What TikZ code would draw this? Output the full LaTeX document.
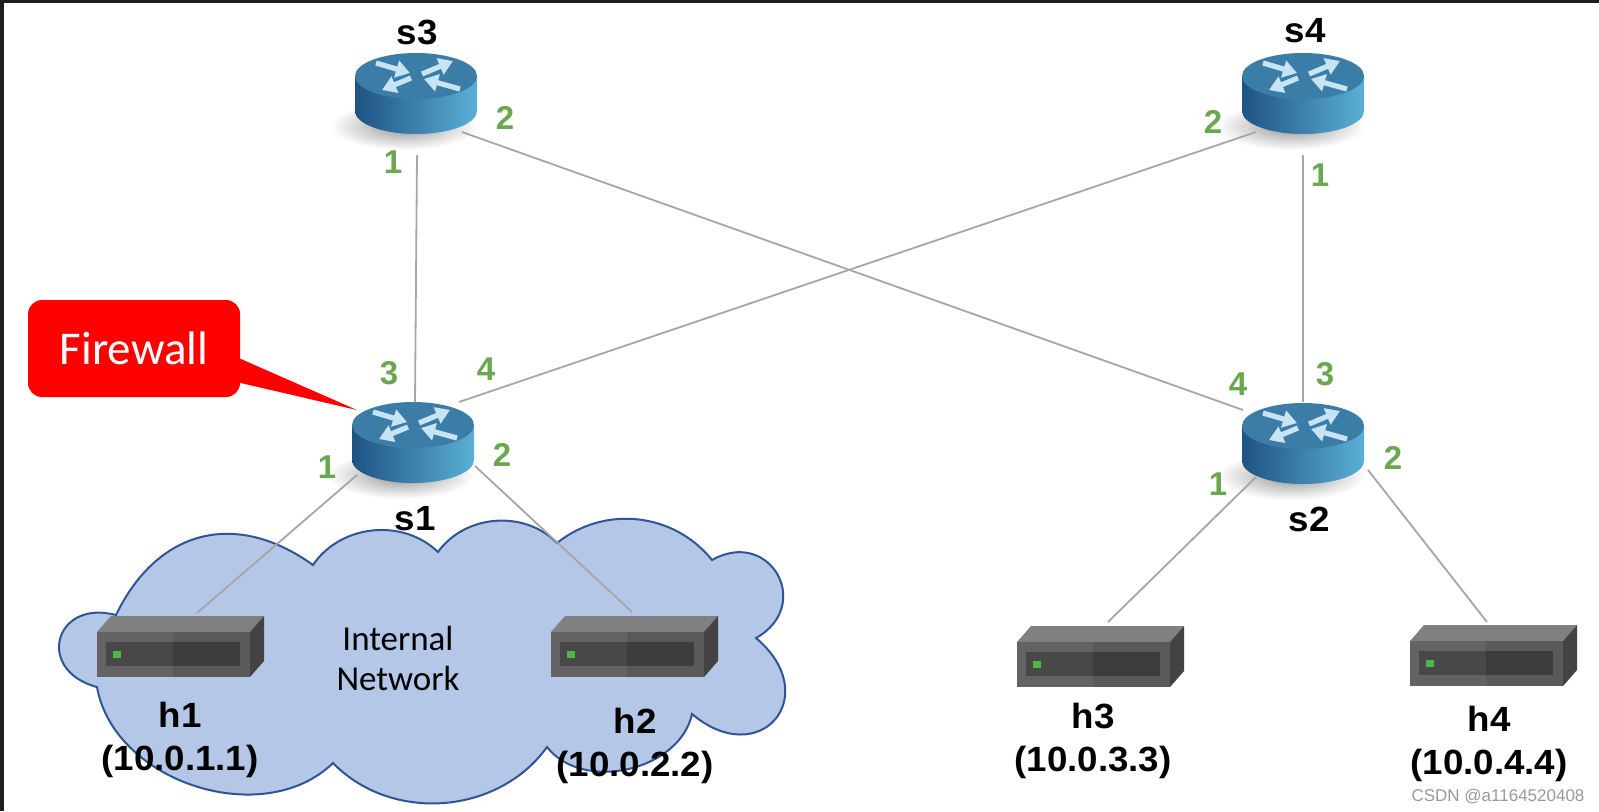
\documentclass[tikz,border=0pt]{standalone}
\usepackage{fontspec}
\usepackage{graphicx}
\setmainfont{Liberation Sans}
\newfontfamily\calFont{Carlito}
\usetikzlibrary{arrows.meta}

\definecolor{linkGray}{HTML}{A6A6A6}
\definecolor{portGreen}{HTML}{6AA84F}
\definecolor{cloudFill}{HTML}{B4C7E7}
\definecolor{cloudEdge}{HTML}{2F5597}
\definecolor{routerTop}{HTML}{3B7DA7}
\definecolor{routerLeft}{HTML}{1F5283}
\definecolor{routerRight}{HTML}{5AB0D6}
\definecolor{routerArrow}{HTML}{C6E4F3}
\definecolor{hostTop}{HTML}{808080}
\definecolor{hostSide}{HTML}{434343}
\definecolor{hostFrontL}{HTML}{636363}
\definecolor{hostFrontR}{HTML}{5A5A5A}
\definecolor{hostPanelL}{HTML}{484848}
\definecolor{hostPanelR}{HTML}{3C3C3C}
\definecolor{hostLed}{HTML}{4DB848}
\definecolor{fwRed}{HTML}{FF0000}
\definecolor{frameDark}{HTML}{1E1E1E}

\pgfdeclareradialshading{routerShadow}{\pgfpoint{0bp}{0bp}}{color(0bp)=(black!45); color(10bp)=(black!25); color(25bp)=(white); color(50bp)=(white)}

\newcommand{\wide}[1]{\scalebox{1.05}[1]{#1}}

% soft shadow under a router: x, y of the top centre
\newcommand{\routerShade}[2]{%
  \shade[shading=routerShadow, shift={(#1,#2)}] (-12,50) ellipse [x radius=74, y radius=24];}

% router icon: name, x, y of the top centre
\newcommand{\router}[3]{%
  \begin{scope}[shift={(#2,#3)}]
    \shade[left color=routerLeft, right color=routerRight]
      (-61,0) -- (-61,35) arc [start angle=180, end angle=0, x radius=61, y radius=23]
      -- (61,0) -- cycle;
    \fill[routerTop] (0,0) ellipse [x radius=61, y radius=23];
    \draw[routerArrowLine] (-40,-13) -- (-6,-3);
    \draw[routerArrowLine] (6,-2) -- (37,-15);
    \draw[routerArrowLine] (-5,2) -- (-34,14);
    \draw[routerArrowLine] (44,13) -- (8,3);
    \coordinate (#1) at (0,0);
  \end{scope}}

% host box: name, x, y of the front top-left corner
\newcommand{\host}[3]{%
  \begin{scope}[shift={(#2,#3)}]
    \fill[hostTop] (0,0) -- (14,-16) -- (167,-16) -- (153,0) -- cycle;
    \fill[hostSide] (153,0) -- (167,-16) -- (167,29) -- (153,45) -- cycle;
    \fill[hostFrontL] (0,0) rectangle (76,45);
    \fill[hostFrontR] (76,0) rectangle (153,45);
    \fill[hostPanelL] (9,10) rectangle (76,34);
    \fill[hostPanelR] (76,10) rectangle (143,34);
    \fill[hostLed] (16,19) rectangle (24,26);
    \coordinate (#1) at (83,-16);
  \end{scope}}

\begin{document}
\begin{tikzpicture}[x=0.5pt, y=-0.5pt]
  \tikzset{
    linkLine/.style={draw=linkGray, line width=0.9pt},
    routerArrowLine/.style={draw=routerArrow, line width=2.6pt,
      -{Triangle[length=7pt, width=8.5pt]}},
    portLabel/.style={text=portGreen, inner sep=0pt,
      font=\fontsize{16.5}{18}\selectfont\bfseries},
    nameLabel/.style={inner sep=0pt, align=center,
      font=\fontsize{17.5}{21.5}\selectfont\bfseries},
    fwBox/.style={fill=fwRed, rounded corners=7pt, text=white,
      minimum width=106pt, minimum height=48.5pt,
      font=\calFont\fontsize{23.5}{28}\selectfont},
    netLabel/.style={inner sep=0pt, align=center,
      font=\calFont\fontsize{17.5}{20}\selectfont},
    waterMark/.style={inner sep=0pt, text=black!40,
      font=\fontsize{8.5}{10}\selectfont}
  }
  \useasboundingbox (0,0) rectangle (1599,811);
  \fill[white] (0,0) rectangle (1599,811);
  \fill[frameDark] (0,0) rectangle (3.5,811);
  \fill[frameDark] (0,0) rectangle (1599,3);

  % internal network cloud
  \coordinate (cA) at (116,615);
  \coordinate (cB) at (313,565);
  \coordinate (cC) at (438,552);
  \coordinate (cD) at (557,543);
  \coordinate (cE) at (712,560);
  \coordinate (cF) at (756,638);
  \coordinate (cG) at (692,714);
  \coordinate (cH) at (547,747);
  \coordinate (cI) at (333,763);
  \coordinate (cJ) at (97,687);
  \draw[fill=cloudFill, draw=cloudEdge, line width=1pt]
    (cA) to[bend left=50, looseness=1.2] (cB)
    to[bend left=50] (cC)
    to[bend left=50] (cD)
    to[bend left=45] (cE)
    to[bend left=90, looseness=1.9] (cF)
    to[bend left=90, looseness=2.3] (cG)
    to[bend left=65] (cH)
    to[bend left=50] (cI)
    to[bend left=62] (cJ)
    to[bend left=90, looseness=2.2] (cA) -- cycle;
  \node[netLabel] (net) at (398,658) {Internal\\Network};

  % port ends of the links
  \coordinate (s3-1) at (417,155);
  \coordinate (s3-2) at (462,132);
  \coordinate (s4-1) at (1303,155);
  \coordinate (s4-2) at (1256,132);
  \coordinate (s1-1) at (357,475);
  \coordinate (s1-2) at (475,466);
  \coordinate (s1-3) at (415,402);
  \coordinate (s1-4) at (459,402);
  \coordinate (s2-1) at (1256,477);
  \coordinate (s2-2) at (1368,470);
  \coordinate (s2-3) at (1303,402);
  \coordinate (s2-4) at (1243,410);

  % hosts
  \host{h1}{97}{632}
  \host{h2}{551}{632}
  \host{h3}{1017}{642}
  \host{h4}{1410}{641}

  \routerShade{416}{76}
  \routerShade{1303}{76}
  \routerShade{413}{425}
  \routerShade{1303}{426}

  % links
  \draw[linkLine] (s3-1) -- (s1-3);
  \draw[linkLine] (s3-2) -- (s2-4);
  \draw[linkLine] (s4-2) -- (s1-4);
  \draw[linkLine] (s4-1) -- (s2-3);
  \draw[linkLine] (s1-1) -- ([xshift=8.5pt, yshift=1.5pt]h1);
  \draw[linkLine] (s1-2) -- ([xshift=-1pt, yshift=2pt]h2);
  \draw[linkLine] (s2-1) -- ([xshift=4pt, yshift=2pt]h3);
  \draw[linkLine] (s2-2) -- ([xshift=-3pt, yshift=1.5pt]h4);

  % switches
  \router{s3}{416}{76}
  \router{s4}{1303}{76}
  \router{s1}{413}{425}
  \router{s2}{1303}{426}

  % names
  \node[nameLabel] (s3name) at (417,32) {\wide{s3}};
  \node[nameLabel] (s4name) at (1305,31) {\wide{s4}};
  \node[nameLabel] (s1name) at (415,519) {\wide{s1}};
  \node[nameLabel] (s2name) at (1309,519) {\wide{s2}};
  \node[nameLabel, anchor=north] (h1name) at (180,702) {\wide{h1}\\\wide{(10.0.1.1)}};
  \node[nameLabel, anchor=north] (h2name) at (635,708) {\wide{h2}\\\wide{(10.0.2.2)}};
  \node[nameLabel, anchor=north] (h3name) at (1093,703) {\wide{h3}\\\wide{(10.0.3.3)}};
  \node[nameLabel, anchor=north] (h4name) at (1489,706) {\wide{h4}\\\wide{(10.0.4.4)}};

  % port numbers
  \node[portLabel] (p31) at (393,162) {1};
  \node[portLabel] (p32) at (505,118) {2};
  \node[portLabel] (p42) at (1213,122) {2};
  \node[portLabel] (p41) at (1320,175) {1};
  \node[portLabel] (p13) at (389,373) {3};
  \node[portLabel] (p14) at (486,369) {4};
  \node[portLabel] (p11) at (327,467) {1};
  \node[portLabel] (p12) at (502,455) {2};
  \node[portLabel] (p24) at (1238,384) {4};
  \node[portLabel] (p23) at (1325,374) {3};
  \node[portLabel] (p21) at (1218,484) {1};
  \node[portLabel] (p22) at (1393,458) {2};

  % firewall callout
  \node[fwBox] (fw) at (134,348.5) {Firewall};
  \coordinate (fwTip) at (357,410);
  \fill[fwRed] ([xshift=-2pt, yshift=-4.25pt]fw.east) -- (fwTip)
    -- ([xshift=-2pt, yshift=-16.75pt]fw.east) -- cycle;

  \node[waterMark] (wm) at (1498,796) {CSDN @a1164520408};
\end{tikzpicture}
\end{document}
